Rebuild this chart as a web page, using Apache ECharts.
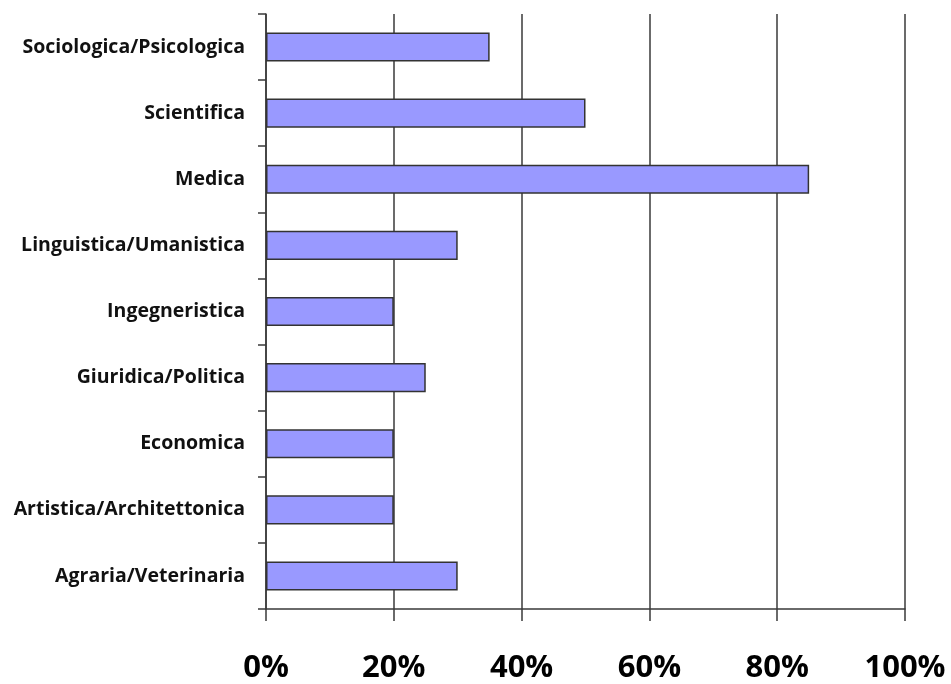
<!DOCTYPE html>
<html>
<head>
<meta charset="utf-8">
<style>
  html, body { margin: 0; padding: 0; background: #ffffff; }
  #chart { width: 951px; height: 684px; }
</style>
<script src="https://cdn.jsdelivr.net/npm/echarts@6/dist/echarts.min.js"></script>
</head>
<body>
<div id="chart"></div>
<script>
// Areas of study, listed bottom to top as drawn on the category axis
const categories = [
  'Agraria/Veterinaria',
  'Artistica/Architettonica',
  'Economica',
  'Giuridica/Politica',
  'Ingegneristica',
  'Linguistica/Umanistica',
  'Medica',
  'Scientifica',
  'Sociologica/Psicologica'
];
// Share for each area, in percent
const shares = [30, 20, 20, 25, 20, 30, 85, 50, 35];
// Value-axis ticks
const tickValues = [0, 20, 40, 60, 80, 100];

const chart = echarts.init(document.getElementById('chart'), null, { renderer: 'canvas' });

chart.setOption({
  animation: false,
  backgroundColor: '#ffffff',
  grid: { left: 266, right: 46, top: 14, bottom: 74, containLabel: false },
  xAxis: {
    type: 'value',
    min: tickValues[0],
    max: tickValues[tickValues.length - 1],
    interval: 20,
    axisLine: { show: true, lineStyle: { color: '#3a3a3a', width: 1.5 } },
    axisTick: { show: true, length: 12, lineStyle: { color: '#3a3a3a', width: 1.5 } },
    axisLabel: {
      margin: 44,
      formatter: v => v + '%',
      fontFamily: 'Open Sans',
      fontWeight: 'bold',
      fontSize: 31,
      color: '#000000'
    },
    splitLine: { show: true, lineStyle: { color: '#3a3a3a', width: 1.5 } }
  },
  yAxis: {
    type: 'category',
    data: categories,
    axisLine: { show: true, lineStyle: { color: '#3a3a3a', width: 1.5 } },
    axisTick: { show: true, length: 8, lineStyle: { color: '#3a3a3a', width: 1.5 } },
    axisLabel: {
      margin: 21,
      fontFamily: 'Open Sans',
      fontWeight: 'bold',
      fontSize: 19.5,
      color: '#111111'
    },
    splitLine: { show: false }
  },
  series: [{
    type: 'bar',
    data: shares,
    barCategoryGap: '56%',
    itemStyle: { color: '#9999ff', borderColor: '#333333', borderWidth: 1.5 }
  }]
});
</script>
</body>
</html>
